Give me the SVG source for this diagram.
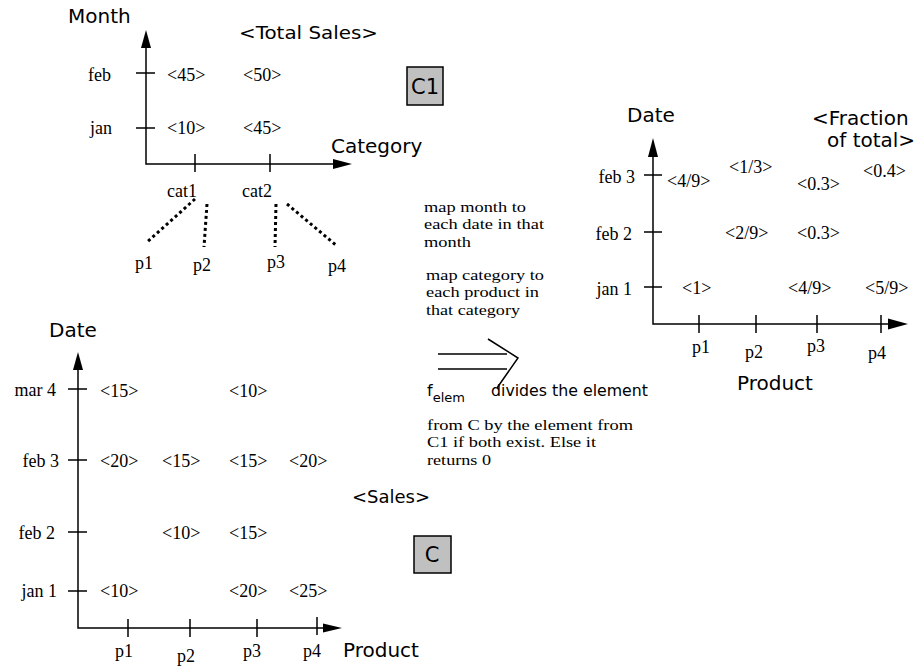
<svg xmlns="http://www.w3.org/2000/svg" width="922" height="666" viewBox="0 0 922 666">
<style>
.ax{stroke:#000;stroke-width:1.5;fill:none}
.tk{stroke:#000;stroke-width:1.5}
.ah{fill:#000}
.dot{stroke:#000;stroke-width:3;stroke-dasharray:3 3;fill:none}
.sr{font-family:"Liberation Serif","Times New Roman",serif;font-size:18px;fill:#000}
.nt{font-size:15.5px}
.ss{font-family:"DejaVu Sans",Verdana,sans-serif;font-size:20px;fill:#000}
.box{fill:#c0c0c0;stroke:#000;stroke-width:1.5}
.end{text-anchor:end}
</style>
<rect width="922" height="666" fill="#fff"/>

<g id="chart-c1">
  <path class="ax" d="M146,46 V164 H335"/>
  <path class="ah" d="M146,30 L141,48 L151,48 Z"/>
  <path class="ah" d="M352,164 L333,159 L333,169 Z"/>
  <path class="tk" d="M136,73 H155 M136,128 H155 M195,154 V172 M270,154 V172"/>
  <text class="ss" x="68" y="23">Month</text>
  <text class="ss" x="331" y="153">Category</text>
  <text class="ss" x="239" y="39" textLength="139" lengthAdjust="spacingAndGlyphs" style="font-size:18px">&lt;Total Sales&gt;</text>
  <text class="sr end" x="111" y="81">feb</text>
  <text class="sr end" x="112" y="134">jan</text>
  <text class="sr" x="167" y="81">&lt;45&gt;</text>
  <text class="sr" x="243" y="81">&lt;50&gt;</text>
  <text class="sr" x="167" y="134">&lt;10&gt;</text>
  <text class="sr" x="243" y="134">&lt;45&gt;</text>
  <text class="sr" x="167" y="197">cat1</text>
  <text class="sr" x="242" y="197">cat2</text>
  <text class="sr" x="135" y="269">p1</text>
  <text class="sr" x="193" y="271">p2</text>
  <text class="sr" x="267" y="268">p3</text>
  <text class="sr" x="328" y="272">p4</text>
</g>

<g id="box-c1">
  <rect class="box" x="407" y="67" width="36" height="38"/>
  <text class="ss" x="425" y="94" text-anchor="middle" style="font-size:21px">C1</text>
</g>

<g id="connectors">
  <path class="dot" d="M195,199 L147,242"/>
  <path class="dot" d="M207,204 L204,247"/>
  <path class="dot" d="M276,204 L275,247"/>
  <path class="dot" d="M287,204 L337,246"/>
  <path class="ax" d="M438,354 H507 M438,369 H507 M488,339 L518,358 L497,388"/>
</g>

<g id="notes">
  <text class="sr nt" x="424" y="212" textLength="102" lengthAdjust="spacingAndGlyphs">map month to</text>
  <text class="sr nt" x="424" y="229" textLength="120" lengthAdjust="spacingAndGlyphs">each date in that</text>
  <text class="sr nt" x="424" y="247" textLength="47" lengthAdjust="spacingAndGlyphs">month</text>
  <text class="sr nt" x="426" y="280" textLength="118" lengthAdjust="spacingAndGlyphs">map category to</text>
  <text class="sr nt" x="426" y="297" textLength="113" lengthAdjust="spacingAndGlyphs">each product in</text>
  <text class="sr nt" x="426" y="315" textLength="94" lengthAdjust="spacingAndGlyphs">that category</text>
  <text class="ss" x="427" y="396" style="font-size:16px">f<tspan dy="6" style="font-size:13px">elem</tspan></text>
  <text class="ss" x="491" y="396" style="font-size:15px" textLength="157" lengthAdjust="spacingAndGlyphs">divides the element</text>
  <text class="sr nt" x="427" y="430" textLength="206" lengthAdjust="spacingAndGlyphs">from C by the element from</text>
  <text class="sr nt" x="427" y="447" textLength="169" lengthAdjust="spacingAndGlyphs">C1 if both exist. Else it</text>
  <text class="sr nt" x="427" y="465" textLength="64" lengthAdjust="spacingAndGlyphs">returns 0</text>
</g>

<g id="chart-result">
  <path class="ax" d="M653,155 V324 H890"/>
  <path class="ah" d="M653,138 L648,157 L658,157 Z"/>
  <path class="ah" d="M908,324 L888,318.5 L888,329.5 Z"/>
  <path class="tk" d="M644,175 H662 M644,232 H662 M644,287 H662 M699,315 V333 M756,315 V333 M817,315 V333 M881,315 V333"/>
  <text class="ss" x="627" y="122">Date</text>
  <text class="ss" x="812" y="125">&lt;Fraction</text>
  <text class="ss" x="827" y="147">of total&gt;</text>
  <text class="ss" x="737" y="390">Product</text>
  <text class="sr end" x="635" y="183">feb 3</text>
  <text class="sr end" x="632" y="240">feb 2</text>
  <text class="sr end" x="632" y="295">jan 1</text>
  <text class="sr" x="667" y="187">&lt;4/9&gt;</text>
  <text class="sr" x="729" y="173">&lt;1/3&gt;</text>
  <text class="sr" x="797" y="190">&lt;0.3&gt;</text>
  <text class="sr" x="863" y="177">&lt;0.4&gt;</text>
  <text class="sr" x="725" y="239">&lt;2/9&gt;</text>
  <text class="sr" x="797" y="239">&lt;0.3&gt;</text>
  <text class="sr" x="682" y="294">&lt;1&gt;</text>
  <text class="sr" x="788" y="294">&lt;4/9&gt;</text>
  <text class="sr" x="865" y="294">&lt;5/9&gt;</text>
  <text class="sr" x="692" y="353">p1</text>
  <text class="sr" x="745" y="358">p2</text>
  <text class="sr" x="807" y="352">p3</text>
  <text class="sr" x="868" y="359">p4</text>
</g>

<g id="chart-c">
  <path class="ax" d="M78,368 V628 H325"/>
  <path class="ah" d="M78,352 L73,370 L83,370 Z"/>
  <path class="ah" d="M342,628 L323,623.5 L323,632.5 Z"/>
  <path class="tk" d="M68,389 H87 M68,460 H87 M68,532 H87 M68,591 H87 M128,619 V637 M190,619 V637 M257,619 V637 M317,617 V635"/>
  <text class="ss" x="49" y="337">Date</text>
  <text class="ss" x="343" y="657">Product</text>
  <text class="ss" x="352" y="503" style="font-size:18px">&lt;Sales&gt;</text>
  <text class="sr end" x="56" y="396">mar 4</text>
  <text class="sr end" x="59" y="467">feb 3</text>
  <text class="sr end" x="55" y="539">feb 2</text>
  <text class="sr end" x="57" y="597">jan 1</text>
  <text class="sr" x="100" y="397">&lt;15&gt;</text>
  <text class="sr" x="229" y="397">&lt;10&gt;</text>
  <text class="sr" x="100" y="467">&lt;20&gt;</text>
  <text class="sr" x="162" y="467">&lt;15&gt;</text>
  <text class="sr" x="229" y="467">&lt;15&gt;</text>
  <text class="sr" x="289" y="467">&lt;20&gt;</text>
  <text class="sr" x="162" y="539">&lt;10&gt;</text>
  <text class="sr" x="229" y="539">&lt;15&gt;</text>
  <text class="sr" x="100" y="597">&lt;10&gt;</text>
  <text class="sr" x="229" y="597">&lt;20&gt;</text>
  <text class="sr" x="289" y="597">&lt;25&gt;</text>
  <text class="sr" x="115" y="657">p1</text>
  <text class="sr" x="177" y="662">p2</text>
  <text class="sr" x="243" y="657">p3</text>
  <text class="sr" x="303" y="657">p4</text>
</g>

<g id="box-c">
  <rect class="box" x="414" y="536" width="37" height="37"/>
  <text class="ss" x="432" y="562" text-anchor="middle" style="font-size:21px">C</text>
</g>
</svg>
